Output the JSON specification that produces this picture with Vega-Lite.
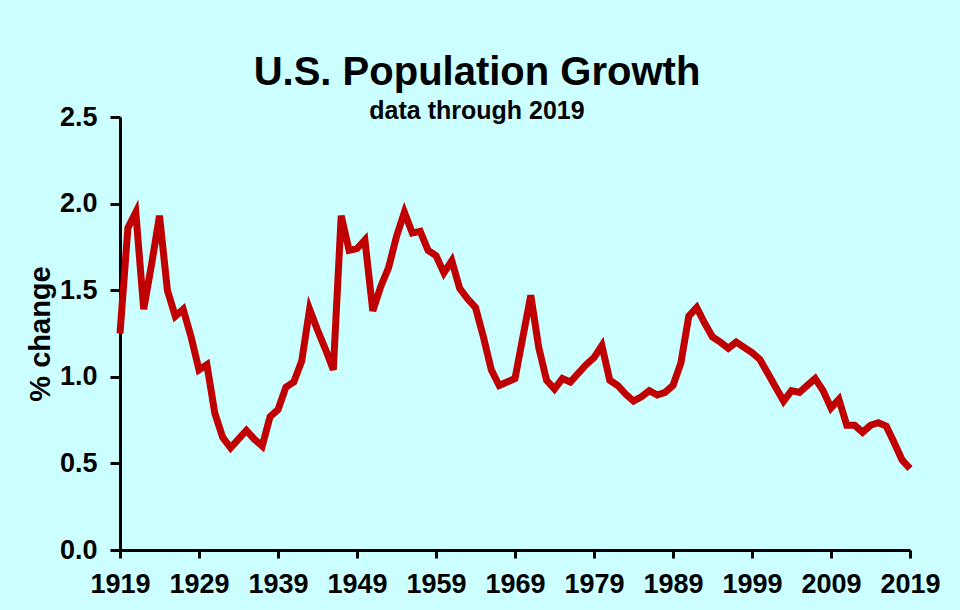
{
  "$schema": "https://vega.github.io/schema/vega-lite/v6.json",
  "width": 790,
  "height": 433,
  "autosize": {"type": "none"},
  "padding": {"left": 120, "top": 117, "right": 50, "bottom": 60},
  "background": "#ccffff",
  "config": {"view": {"stroke": null}, "font": "Liberation Sans"},
  "title": {
    "text": "U.S. Population Growth",
    "subtitle": "data through 2019",
    "fontSize": 40,
    "fontWeight": "bold",
    "subtitleFontSize": 25,
    "subtitleFontWeight": "bold",
    "color": "black",
    "subtitleColor": "black",
    "anchor": "middle",
    "dx": -38,
    "offset": -21,
    "subtitlePadding": 6,
    "font": "Liberation Sans",
    "subtitleFont": "Liberation Sans"
  },
  "data": {
    "values": [
      {"year": 1919, "pct": 1.25}, {"year": 1920, "pct": 1.86}, {"year": 1921, "pct": 1.95},
      {"year": 1922, "pct": 1.39}, {"year": 1923, "pct": 1.65}, {"year": 1924, "pct": 1.93},
      {"year": 1925, "pct": 1.5}, {"year": 1926, "pct": 1.35}, {"year": 1927, "pct": 1.39},
      {"year": 1928, "pct": 1.23}, {"year": 1929, "pct": 1.04}, {"year": 1930, "pct": 1.07},
      {"year": 1931, "pct": 0.79}, {"year": 1932, "pct": 0.65}, {"year": 1933, "pct": 0.59},
      {"year": 1934, "pct": 0.64}, {"year": 1935, "pct": 0.69}, {"year": 1936, "pct": 0.64},
      {"year": 1937, "pct": 0.6}, {"year": 1938, "pct": 0.77}, {"year": 1939, "pct": 0.81},
      {"year": 1940, "pct": 0.94}, {"year": 1941, "pct": 0.97}, {"year": 1942, "pct": 1.09},
      {"year": 1943, "pct": 1.39}, {"year": 1944, "pct": 1.27}, {"year": 1945, "pct": 1.16},
      {"year": 1946, "pct": 1.04}, {"year": 1947, "pct": 1.93}, {"year": 1948, "pct": 1.73},
      {"year": 1949, "pct": 1.74}, {"year": 1950, "pct": 1.79}, {"year": 1951, "pct": 1.38},
      {"year": 1952, "pct": 1.52}, {"year": 1953, "pct": 1.63}, {"year": 1954, "pct": 1.81},
      {"year": 1955, "pct": 1.95}, {"year": 1956, "pct": 1.83}, {"year": 1957, "pct": 1.84},
      {"year": 1958, "pct": 1.73}, {"year": 1959, "pct": 1.7}, {"year": 1960, "pct": 1.6},
      {"year": 1961, "pct": 1.67}, {"year": 1962, "pct": 1.51}, {"year": 1963, "pct": 1.45},
      {"year": 1964, "pct": 1.4}, {"year": 1965, "pct": 1.23}, {"year": 1966, "pct": 1.04},
      {"year": 1967, "pct": 0.95}, {"year": 1968, "pct": 0.97}, {"year": 1969, "pct": 0.99},
      {"year": 1970, "pct": 1.23}, {"year": 1971, "pct": 1.47}, {"year": 1972, "pct": 1.17},
      {"year": 1973, "pct": 0.98}, {"year": 1974, "pct": 0.93}, {"year": 1975, "pct": 0.99},
      {"year": 1976, "pct": 0.97}, {"year": 1977, "pct": 1.02}, {"year": 1978, "pct": 1.07},
      {"year": 1979, "pct": 1.11}, {"year": 1980, "pct": 1.18}, {"year": 1981, "pct": 0.98},
      {"year": 1982, "pct": 0.95}, {"year": 1983, "pct": 0.9}, {"year": 1984, "pct": 0.86},
      {"year": 1985, "pct": 0.885}, {"year": 1986, "pct": 0.92}, {"year": 1987, "pct": 0.895},
      {"year": 1988, "pct": 0.91}, {"year": 1989, "pct": 0.95}, {"year": 1990, "pct": 1.08},
      {"year": 1991, "pct": 1.35}, {"year": 1992, "pct": 1.4}, {"year": 1993, "pct": 1.31},
      {"year": 1994, "pct": 1.23}, {"year": 1995, "pct": 1.2}, {"year": 1996, "pct": 1.165},
      {"year": 1997, "pct": 1.2}, {"year": 1998, "pct": 1.17}, {"year": 1999, "pct": 1.14},
      {"year": 2000, "pct": 1.1}, {"year": 2001, "pct": 1.02}, {"year": 2002, "pct": 0.94},
      {"year": 2003, "pct": 0.86}, {"year": 2004, "pct": 0.92}, {"year": 2005, "pct": 0.91},
      {"year": 2006, "pct": 0.95}, {"year": 2007, "pct": 0.99}, {"year": 2008, "pct": 0.92},
      {"year": 2009, "pct": 0.82}, {"year": 2010, "pct": 0.87}, {"year": 2011, "pct": 0.72},
      {"year": 2012, "pct": 0.72}, {"year": 2013, "pct": 0.68}, {"year": 2014, "pct": 0.72},
      {"year": 2015, "pct": 0.735}, {"year": 2016, "pct": 0.715}, {"year": 2017, "pct": 0.62},
      {"year": 2018, "pct": 0.52}, {"year": 2019, "pct": 0.47}
    ]
  },
  "mark": {"type": "line", "color": "#c00000", "strokeWidth": 7},
  "encoding": {
    "x": {
      "field": "year",
      "type": "quantitative",
      "scale": {"domain": [1919, 2019], "nice": false, "zero": false},
      "axis": {
        "values": [1919, 1929, 1939, 1949, 1959, 1969, 1979, 1989, 1999, 2009, 2019],
        "format": "d",
        "title": null,
        "grid": false,
        "domainColor": "black",
        "domainWidth": 3,
        "tickColor": "black",
        "tickWidth": 3,
        "tickSize": 8,
        "labelFontSize": 27,
        "labelFontWeight": "bold",
        "labelColor": "black",
        "labelPadding": 13,
        "labelFlush": false,
        "labelOverlap": false
      }
    },
    "y": {
      "field": "pct",
      "type": "quantitative",
      "scale": {"domain": [0, 2.5], "nice": false},
      "axis": {
        "values": [0, 0.5, 1, 1.5, 2, 2.5],
        "format": ".1f",
        "title": "% change",
        "titleFontSize": 29,
        "titleFontWeight": "bold",
        "titleColor": "black",
        "titlePadding": 4,
        "grid": false,
        "domainColor": "black",
        "domainWidth": 3,
        "tickColor": "black",
        "tickWidth": 3,
        "tickSize": 10,
        "labelFontSize": 27,
        "labelFontWeight": "bold",
        "labelColor": "black",
        "labelPadding": 13,
        "labelFlush": false,
        "labelOverlap": false
      }
    }
  }
}
